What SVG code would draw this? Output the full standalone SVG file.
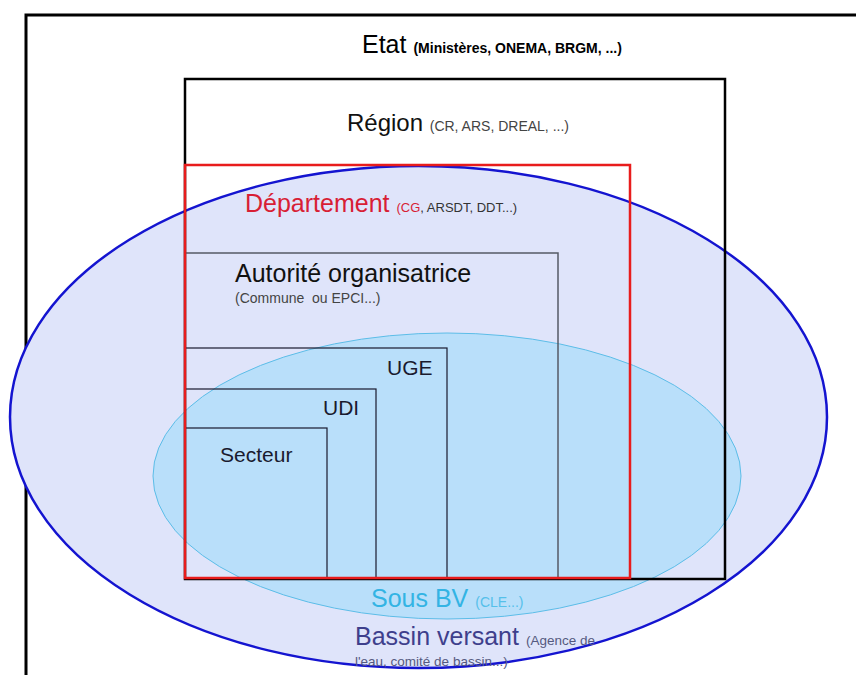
<svg xmlns="http://www.w3.org/2000/svg" width="856" height="675" viewBox="0 0 856 675">
  <style>
    text { font-family: "Liberation Sans", Arial, sans-serif; }
    .big { font-size: 25px; }
    .mid { font-size: 21px; fill: #1a1a2e; }
    .small { font-size: 14px; fill: #444; }
    .box { fill: none; }
  </style>
  <rect x="0" y="0" width="856" height="675" fill="#ffffff"/>
  <g id="etat">
    <rect class="box" x="26" y="15" width="845" height="700" stroke="#000" stroke-width="3"/>
    <text x="362" y="53" class="big" fill="#000">Etat <tspan font-size="14" font-weight="bold">(Ministères, ONEMA, BRGM, ...)</tspan></text>
  </g>
  <g id="bassin-versant">
    <ellipse cx="418.5" cy="417" rx="408.5" ry="251" fill="#dfe4fa" stroke="#1414d0" stroke-width="2.5"/>
  </g>
  <g id="sous-bv">
    <ellipse cx="447" cy="476" rx="294" ry="143" fill="#b9dffa" stroke="#5cbde8" stroke-width="1"/>
  </g>
  <g id="region">
    <rect class="box" x="185" y="79" width="540" height="500" stroke="#000" stroke-width="2.5"/>
    <text x="347" y="131" font-size="24" fill="#111">Région <tspan class="small">(CR, ARS, DREAL, ...)</tspan></text>
  </g>
  <g id="autorite">
    <rect class="box" x="185" y="253" width="373" height="325" stroke="#555a66" stroke-width="1.5"/>
    <text x="235" y="282" class="big" fill="#111">Autorité organisatrice</text>
    <text x="235" y="303" class="small">(Commune&#160; ou EPCI...)</text>
  </g>
  <g id="uge">
    <rect class="box" x="185" y="348" width="262" height="230" stroke="#1a1a2e" stroke-width="1.2"/>
    <text x="387" y="375" class="mid">UGE</text>
  </g>
  <g id="udi">
    <rect class="box" x="185" y="389" width="191" height="189" stroke="#1a1a2e" stroke-width="1.2"/>
    <text x="323" y="415" class="mid">UDI</text>
  </g>
  <g id="secteur">
    <rect class="box" x="185" y="428" width="142" height="150" stroke="#1a1a2e" stroke-width="1.2"/>
    <text x="220" y="462" class="mid">Secteur</text>
  </g>
  <g id="departement">
    <rect class="box" x="185" y="165" width="445" height="413" stroke="#e81c1c" stroke-width="2.5"/>
    <text x="245" y="212" class="big" fill="#d81e35">Département <tspan font-size="13" fill="#d81e35">(CG</tspan><tspan font-size="13" fill="#333">, ARSDT, DDT...)</tspan></text>
  </g>
  <g id="sous-bv-label">
    <text x="371" y="607" class="big" fill="#33b4e4">Sous BV <tspan font-size="14" fill="#55c0ea">(CLE...)</tspan></text>
  </g>
  <g id="bassin-versant-label">
    <text x="355" y="645" class="big" fill="#3e3f8c">Bassin versant <tspan font-size="13.5" fill="#555a80">(Agence de</tspan></text>
    <text x="355" y="666" font-size="13.5" fill="#555a80">l'eau, comité de bassin...)</text>
  </g>
</svg>
